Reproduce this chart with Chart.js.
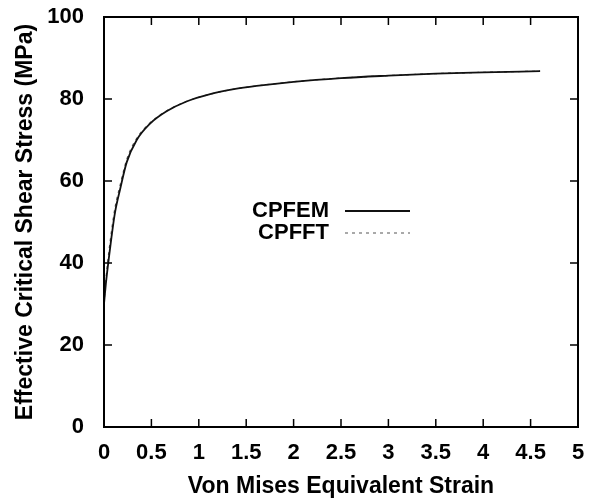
<!DOCTYPE html>
<html><head><meta charset="utf-8">
<script src="https://cdn.jsdelivr.net/npm/chart.js@4.4.0/dist/chart.umd.min.js"></script>
<style>html,body{margin:0;padding:0;background:#fff}#w{width:592px;height:500px}</style>
</head><body><div id="w"><canvas id="c" width="592" height="500"></canvas></div>
<script>
const strain = [0, 0.02, 0.05, 0.08, 0.116, 0.17, 0.24, 0.345, 0.486, 0.66, 0.87, 1.12, 1.37, 1.61, 2.0, 2.5, 3.0, 3.5, 4.0, 4.6];
const cpfem  = [30, 35, 41, 46.5, 52.3, 58, 64.6, 70, 74, 77, 79.4, 81.2, 82.4, 83.2, 84.2, 85.1, 85.7, 86.2, 86.5, 86.8];
const cpfft  = [30, 36, 42.5, 48, 53.5, 59, 65.3, 70.4, 74.2, 77.1, 79.4, 81.2, 82.4, 83.2, 84.2, 85.1, 85.7, 86.2, 86.5, 86.8];
const seriesNames = ['CPFEM', 'CPFFT'];
const xTickStep = 0.5, yTickStep = 20;

const FONT = "'Liberation Sans', Arial, sans-serif";
const pts = (xs, ys) => xs.map((x, i) => ({x, y: ys[i]}));

const framePlugin = {
  id: 'frame',
  afterDraw(chart) {
    const {ctx, chartArea: a, scales} = chart;
    ctx.save();
    ctx.strokeStyle = '#000';
    ctx.lineWidth = 2;
    ctx.strokeRect(a.left, a.top, a.right - a.left, a.bottom - a.top);
    ctx.lineWidth = 1.5;
    const L = 8;
    scales.x.ticks.forEach(t => {
      const px = scales.x.getPixelForValue(t.value);
      ctx.beginPath();
      ctx.moveTo(px, a.bottom); ctx.lineTo(px, a.bottom - L);
      ctx.moveTo(px, a.top); ctx.lineTo(px, a.top + L);
      ctx.stroke();
    });
    scales.y.ticks.forEach(t => {
      const py = scales.y.getPixelForValue(t.value);
      ctx.beginPath();
      ctx.moveTo(a.left, py); ctx.lineTo(a.left + L, py);
      ctx.moveTo(a.right, py); ctx.lineTo(a.right - L, py);
      ctx.stroke();
    });
    // legend (gnuplot style: text then sample)
    ctx.font = "bold 22px " + FONT;
    ctx.fillStyle = '#000';
    ctx.textAlign = 'right';
    ctx.textBaseline = 'middle';
    const lx = 329, sx0 = 345, sx1 = 410;
    const rows = [{y: 211, ds: chart.data.datasets[0]}, {y: 233, ds: chart.data.datasets[1]}];
    rows.forEach(r => {
      ctx.fillText(r.ds.label, lx, r.y);
      ctx.beginPath();
      ctx.strokeStyle = r.ds.borderColor;
      ctx.lineWidth = r.ds.borderWidth;
      ctx.setLineDash(r.ds.borderDash || []);
      ctx.moveTo(sx0, r.y); ctx.lineTo(sx1, r.y);
      ctx.stroke();
      ctx.setLineDash([]);
    });
    ctx.restore();
  }
};

new Chart(document.getElementById('c'), {
  type: 'line',
  data: {
    datasets: [
      {label: seriesNames[0], data: pts(strain, cpfem), borderColor: '#111', borderWidth: 1.8, pointRadius: 0, cubicInterpolationMode: 'monotone', fill: false},
      {label: seriesNames[1], data: pts(strain, cpfft), borderColor: '#555', borderWidth: 1.2, borderDash: [3, 4], pointRadius: 0, cubicInterpolationMode: 'monotone', fill: false}
    ]
  },
  options: {
    responsive: false,
    animation: false,
    layout: {padding: {top: 17, right: 14, left: 0, bottom: 0}},
    plugins: {legend: {display: false}, tooltip: {enabled: false}},
    scales: {
      x: {
        type: 'linear', min: 0, max: 5,
        grid: {display: false}, border: {display: false},
        ticks: {stepSize: xTickStep, color: '#000', padding: 5, maxRotation: 0, autoSkip: false, callback: v => String(v), font: {family: FONT, size: 22, weight: 'bold'}},
        title: {display: true, text: 'Von Mises Equivalent Strain', color: '#000', padding: {top: 0, bottom: 0}, font: {family: FONT, size: 23, weight: 'bold'}},
        afterFit(s) { s.height = 73; s.paddingLeft = 0; s.paddingRight = 0; }
      },
      y: {
        type: 'linear', min: 0, max: 100,
        grid: {display: false}, border: {display: false},
        ticks: {stepSize: yTickStep, color: '#000', padding: 12, callback: v => String(v), font: {family: FONT, size: 22, weight: 'bold'}},
        title: {display: true, text: 'Effective Critical Shear Stress (MPa)', color: '#000', padding: {top: 12, bottom: 0}, font: {family: FONT, size: 23, weight: 'bold'}},
        afterFit(s) { s.width = 104; s.paddingTop = 0; s.paddingBottom = 0; }
      }
    }
  },
  plugins: [framePlugin]
});
</script>
</body></html>
